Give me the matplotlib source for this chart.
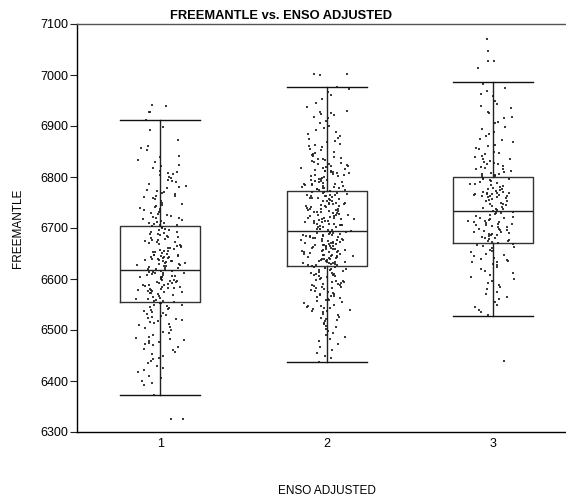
import matplotlib.pyplot as plt
import numpy as np

# Groups of ENSO adjusted
groups = [1, 2, 3]

# Box statistics (FREEMANTLE)
q1 = [6555, 6625, 6670]
medians = [6618, 6694, 6733]
q3 = [6703, 6772, 6800]
whisk_lo = [6372, 6437, 6528]
whisk_hi = [6912, 6977, 6987]

g1_values = [
    6940, 6941, 6928, 6927,
    6911, 6899, 6893, 6872, 6860, 6857, 6852, 6842, 6840, 6834, 6830, 6824,
    6821, 6818, 6812, 6810, 6808, 6806, 6803, 6800, 6798, 6795, 6793, 6790,
    6786, 6782, 6780, 6778, 6775, 6772, 6770, 6768, 6766, 6763, 6762, 6760,
    6758, 6756, 6753, 6750, 6748, 6746, 6744, 6742, 6740, 6738, 6736, 6734,
    6732, 6730, 6728, 6726, 6724, 6722, 6720, 6719, 6717, 6715, 6713, 6712,
    6710, 6709, 6707, 6706, 6705, 6704,
    6702, 6700, 6699, 6697, 6696, 6693, 6693, 6691, 6688, 6688, 6687, 6685,
    6683, 6682, 6681, 6679, 6677, 6676, 6675, 6672, 6672, 6670, 6669, 6667,
    6665, 6664, 6663, 6661, 6660, 6658, 6657, 6655, 6654, 6652, 6651, 6650,
    6648, 6647, 6646, 6645, 6644, 6643, 6642, 6641, 6640, 6638, 6637, 6636,
    6635, 6634, 6632, 6631, 6630, 6628, 6627, 6626, 6625, 6623, 6622, 6621,
    6620, 6619, 6647, 6643, 6639, 6652, 6636, 6629,
    6617, 6616, 6615, 6614, 6613, 6612, 6611, 6610, 6608, 6607, 6606, 6605,
    6604, 6603, 6602, 6600, 6599, 6598, 6597, 6595, 6594, 6593, 6592, 6590,
    6589, 6588, 6587, 6585, 6584, 6583, 6582, 6580, 6579, 6578, 6577, 6576,
    6575, 6574, 6573, 6572, 6570, 6568, 6566, 6565, 6563, 6561, 6560, 6558,
    6557, 6556, 6611, 6604, 6596, 6589, 6581,
    6554, 6553, 6552, 6550, 6549, 6547, 6545, 6543, 6541, 6540, 6538, 6536,
    6534, 6532, 6530, 6528, 6526, 6524, 6522, 6520, 6518, 6516, 6514, 6512,
    6510, 6506, 6503, 6500, 6497, 6494, 6490, 6487, 6485, 6483, 6480, 6479,
    6477, 6475, 6472, 6470, 6466, 6463, 6460, 6457, 6453, 6449, 6446, 6444,
    6440, 6435, 6430, 6426, 6422, 6418, 6410, 6406, 6400, 6396, 6392, 6373,
    6325, 6326,
]

g2_values = [
    7000, 7001, 7002,
    6976, 6972, 6966, 6960, 6952, 6945, 6938, 6930, 6928, 6926, 6924, 6921,
    6918, 6915, 6910, 6905, 6900, 6896, 6892, 6888, 6884, 6880, 6877, 6874,
    6871, 6868, 6865, 6862, 6860, 6858, 6855, 6852, 6850, 6848, 6846, 6844,
    6842, 6840, 6838, 6836, 6834, 6832, 6830, 6828, 6826, 6825, 6823, 6821,
    6820, 6818, 6817, 6815, 6814, 6812, 6811, 6810, 6808, 6807, 6805, 6804,
    6803, 6801, 6800, 6799, 6797, 6796, 6795, 6793, 6792, 6791, 6790, 6788,
    6787, 6786, 6785, 6784, 6783, 6782, 6781, 6780, 6779, 6778, 6777, 6776,
    6775, 6774, 6773, 6836, 6822, 6809, 6794, 6786, 6779, 6812, 6801,
    6771, 6770, 6768, 6768, 6767, 6765, 6765, 6764, 6762, 6762, 6761, 6759,
    6759, 6758, 6756, 6756, 6755, 6753, 6753, 6752, 6750, 6750, 6749, 6747,
    6747, 6746, 6744, 6744, 6743, 6741, 6741, 6740, 6738, 6738, 6737, 6735,
    6735, 6734, 6732, 6732, 6731, 6729, 6729, 6728, 6726, 6726, 6725, 6723,
    6723, 6722, 6720, 6720, 6719, 6717, 6717, 6716, 6714, 6714, 6713, 6711,
    6711, 6710, 6708, 6708, 6707, 6705, 6705, 6704, 6702, 6702, 6701, 6699,
    6699, 6698, 6696, 6696, 6695, 6763, 6748, 6733, 6718, 6706,
    6693, 6692, 6691, 6690, 6689, 6688, 6687, 6686, 6685, 6684, 6683, 6682,
    6681, 6680, 6679, 6678, 6677, 6676, 6675, 6674, 6673, 6672, 6671, 6670,
    6669, 6668, 6667, 6666, 6665, 6664, 6663, 6662, 6661, 6660, 6659, 6658,
    6657, 6656, 6655, 6654, 6653, 6652, 6651, 6650, 6649, 6648, 6647, 6646,
    6645, 6644, 6643, 6642, 6641, 6640, 6639, 6638, 6637, 6636, 6635, 6634,
    6633, 6632, 6631, 6630, 6629, 6628, 6627, 6626, 6690, 6684, 6677, 6671,
    6664, 6658, 6652, 6645, 6639, 6633, 6686, 6666, 6648, 6631, 6628, 6654,
    6624, 6623, 6621, 6620, 6618, 6617, 6615, 6614, 6612, 6611, 6609, 6608,
    6606, 6605, 6603, 6602, 6600, 6599, 6597, 6596, 6594, 6593, 6591, 6590,
    6588, 6587, 6585, 6584, 6582, 6580, 6578, 6576, 6574, 6572, 6570, 6568,
    6566, 6564, 6562, 6560, 6558, 6556, 6554, 6552, 6550, 6548, 6546, 6544,
    6542, 6540, 6538, 6535, 6532, 6529, 6526, 6523, 6520, 6517, 6514, 6511,
    6508, 6505, 6502, 6498, 6494, 6490, 6486, 6482, 6478, 6472, 6466, 6460,
    6455, 6450, 6445, 6438, 6619, 6607, 6595, 6583, 6571, 6559, 6547, 6537,
    6610, 6589, 6567, 6543, 6521,
]

g3_values = [
    7070, 7048, 7027, 7028, 7014,
    6982, 6975, 6968, 6962, 6958, 6950, 6944, 6940, 6935, 6928, 6925, 6918,
    6915, 6908, 6905, 6898, 6895, 6888, 6885, 6880, 6875, 6872, 6868, 6863,
    6860, 6857, 6855, 6850, 6848, 6845, 6842, 6840, 6836, 6835, 6832, 6830,
    6828, 6826, 6825, 6822, 6820, 6818, 6816, 6815, 6812, 6810, 6808, 6806,
    6805, 6803, 6802, 6801,
    6799, 6797, 6796, 6794, 6792, 6791, 6789, 6787, 6786, 6784, 6782, 6781,
    6779, 6777, 6776, 6774, 6772, 6771, 6770, 6769, 6768, 6767, 6766, 6765,
    6764, 6763, 6762, 6761, 6760, 6758, 6757, 6755, 6753, 6752, 6750, 6748,
    6747, 6745, 6743, 6742, 6740, 6738, 6737, 6735, 6734, 6769, 6766, 6763,
    6732, 6730, 6729, 6727, 6725, 6724, 6722, 6720, 6719, 6717, 6716, 6714,
    6713, 6711, 6710, 6708, 6707, 6705, 6704, 6702, 6701, 6699, 6698, 6696,
    6695, 6693, 6692, 6690, 6689, 6687, 6686, 6684, 6683, 6681, 6680, 6678,
    6677, 6675, 6674, 6672, 6671, 6712, 6705, 6697, 6688,
    6668, 6666, 6664, 6662, 6660, 6657, 6655, 6652, 6650, 6647, 6645, 6642,
    6640, 6637, 6635, 6634, 6633, 6630, 6627, 6624, 6620, 6616, 6612, 6608,
    6604, 6600, 6596, 6592, 6588, 6584, 6580, 6575, 6570, 6565, 6560, 6555,
    6550, 6545, 6540, 6535, 6530, 6440,
]

values = [g1_values, g2_values, g3_values]

fig = plt.figure(figsize=(5.66, 4.97), dpi=100)
plt.rcParams['font.family'] = ['Liberation Sans', 'DejaVu Sans']
ax = fig.add_axes([77 / 566, 65 / 497, 499.5 / 566, 408 / 497])

# Points, spread sideways with a scrambled (hash based) jitter
for gi, (g, vals) in enumerate(zip(groups, values)):
    idx = np.arange(len(vals)) + 1.0 + gi * 1000
    u = np.abs(np.sin(idx * 12.9898) * 43758.5453) % 1.0
    v = np.abs(np.sin(idx * 78.233) * 24634.6345) % 1.0
    offs = (u + v - 1.0) * 0.17
    ax.scatter(g + offs, vals, s=2.6, marker='s', color='#1a1a1a',
               linewidths=0, alpha=0.85, zorder=3)

# Box plots from the read statistics
stats = []
for i in range(len(groups)):
    stats.append(dict(med=medians[i], q1=q1[i], q3=q3[i],
                      whislo=whisk_lo[i], whishi=whisk_hi[i], fliers=[]))
ax.bxp(stats, positions=groups, widths=0.48, showfliers=False,
       boxprops=dict(color='#333333', linewidth=1.0),
       medianprops=dict(color='#222222', linewidth=1.0),
       whiskerprops=dict(color='#222222', linewidth=1.0),
       capprops=dict(color='#111111', linewidth=1.0),
       capwidths=0.48, manage_ticks=False, zorder=2)

ax.set_xlim(0.5, 3.5)
ax.set_ylim(6300, 7100)
ax.set_xticks(groups)
ax.set_xticklabels([str(g) for g in groups])
ax.set_yticks(np.arange(6300, 7101, 100))
ax.tick_params(axis='both', labelsize=9, length=5, width=0.8, color='#222222')
ax.tick_params(axis='y', pad=1)
ax.tick_params(axis='x', length=0, pad=4)

ax.spines['right'].set_visible(False)
ax.spines['top'].set_color('#555555')
ax.spines['top'].set_linewidth(1.0)
ax.spines['left'].set_linewidth(1.0)
ax.spines['bottom'].set_linewidth(1.0)

fig.text(0.497, 1 - 16 / 497, 'FREEMANTLE vs. ENSO ADJUSTED', ha='center',
         va='center', fontsize=9.3, fontweight='bold')
fig.text(18 / 566, 1 - 228 / 497, 'FREEMANTLE', rotation=90, ha='center',
         va='center', fontsize=8.5)
fig.text(327 / 566, 1 - 491 / 497, 'ENSO ADJUSTED', ha='center',
         va='center', fontsize=8.5)

plt.savefig('out.png', dpi=100)
